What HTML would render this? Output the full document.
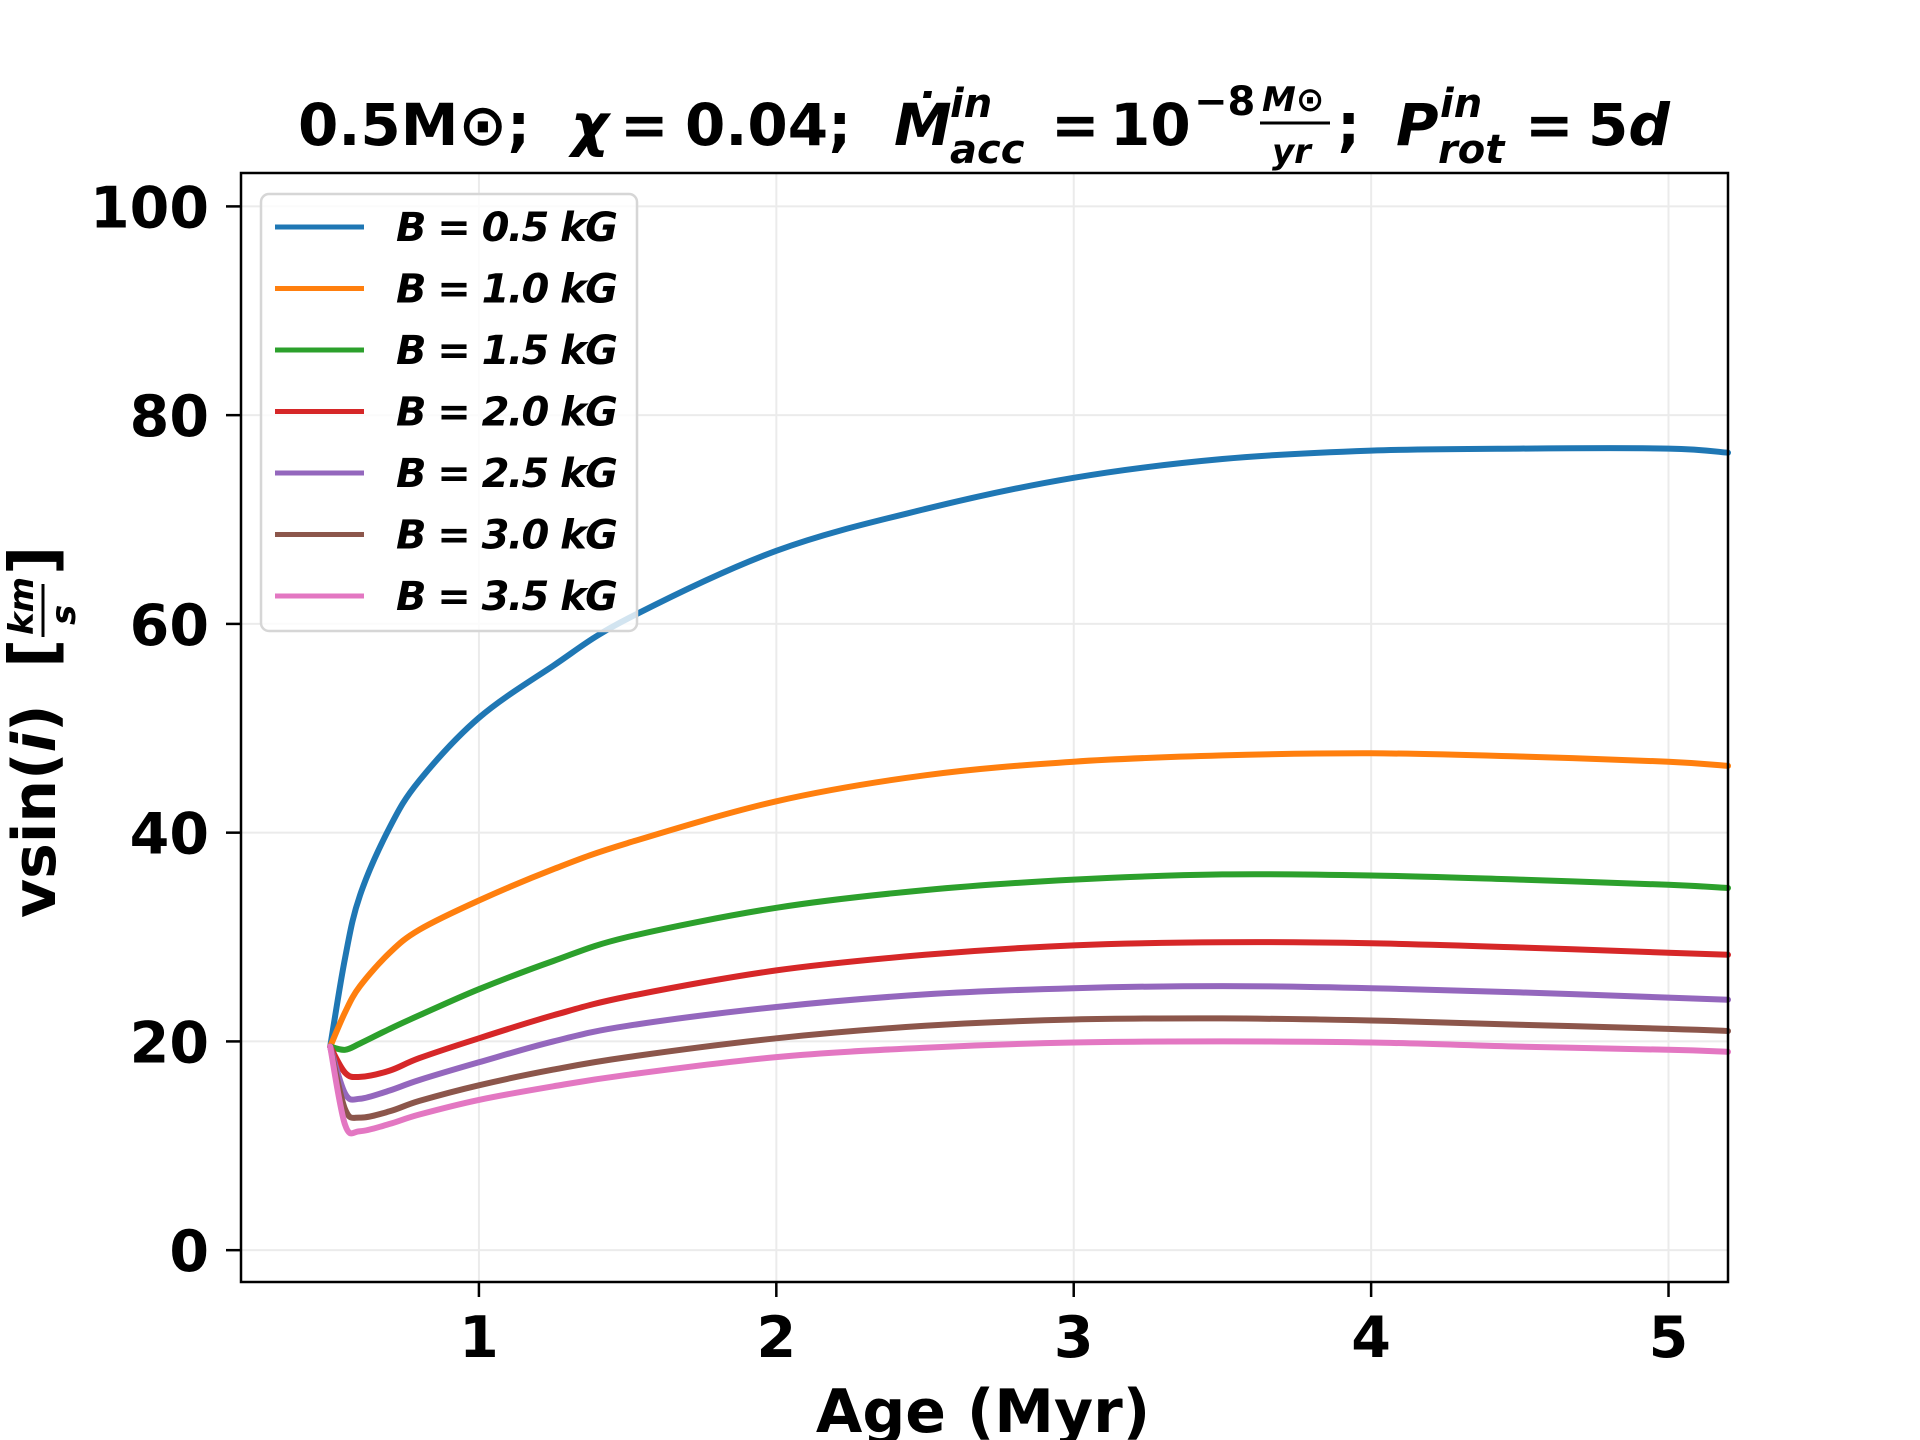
<!DOCTYPE html>
<html><head><meta charset="utf-8"><style>
html,body{margin:0;padding:0;background:#fff;}
svg{display:block;font-family:"DejaVu Sans","Liberation Sans",sans-serif;font-weight:bold;}
</style></head><body>
<svg id="chart" width="1920" height="1440" viewBox="0 0 1920 1440">
<g id="grid"></g>
<g id="series"></g>
<rect x="241" y="173" width="1487" height="1109" fill="none" stroke="#000" stroke-width="2.5"/>
<g id="ticks"></g>
<text y="145" font-size="58">
<tspan x="298">0.5M⊙;</tspan>
<tspan x="571" font-style="italic">χ</tspan><tspan x="620">=</tspan><tspan x="685">0.04;</tspan>
<tspan x="894" font-style="italic">Ṁ</tspan>
<tspan x="950" dy="-28" font-size="40" font-style="italic">in</tspan>
<tspan x="950" dy="46" font-size="40" font-style="italic">acc</tspan>
<tspan x="1051" dy="-18">=</tspan><tspan x="1110">10</tspan>
<tspan x="1194" dy="-30" font-size="40">−8</tspan>
<tspan x="1262" dy="-4" font-size="34" font-style="italic">M⊙</tspan>
<tspan x="1272" dy="52" font-size="34" font-style="italic">yr</tspan>
<tspan x="1337" dy="-18">;</tspan>
<tspan x="1396" font-style="italic">P</tspan>
<tspan x="1440" dy="-28" font-size="40" font-style="italic">in</tspan>
<tspan x="1438" dy="46" font-size="40" font-style="italic">rot</tspan>
<tspan x="1525" dy="-18">=</tspan><tspan x="1588">5</tspan><tspan font-style="italic">d</tspan>
</text>
<line x1="1260" y1="123" x2="1330" y2="123" stroke="#000" stroke-width="3"/>
<text x="983" y="1432" font-size="60" text-anchor="middle">Age (Myr)</text>
<g transform="translate(55,918) rotate(-90)">
<text x="0" y="0" font-size="60">vsin(<tspan font-style="italic">i</tspan>)</text>
<text x="250" y="0" font-size="64">[</text>
<text x="283" y="-22" font-size="34" font-style="italic">km</text>
<line x1="281" y1="-12" x2="334" y2="-12" stroke="#000" stroke-width="3"/>
<text x="293" y="20" font-size="34" font-style="italic">s</text>
<text x="343" y="0" font-size="64">]</text>
</g>
<g id="legend">
<rect x="261" y="194" width="376" height="437" rx="8" fill="#fff" fill-opacity="0.8" stroke="#d6d6d6" stroke-width="2.5"/>
</g>
</svg>
<script>
const xTicks=[1,2,3,4,5];
const yTicks=[0,20,40,60,80,100];
const labels=["B = 0.5 kG","B = 1.0 kG","B = 1.5 kG","B = 2.0 kG","B = 2.5 kG","B = 3.0 kG","B = 3.5 kG"];
const colors=["#1f77b4","#ff7f0e","#2ca02c","#d62728","#9467bd","#8c564b","#e377c2"];
const ages=[0.5,0.55,0.6,0.7,0.8,1.0,1.25,1.5,2.0,2.5,3.0,3.5,4.0,4.5,5.0,5.2];
const sB05=[19.5,28,34,40.5,45,51,56,60.5,67,71,74,75.8,76.6,76.8,76.8,76.4];
const sB10=[19.5,22.8,25.3,28.5,30.7,33.5,36.5,39,43,45.5,46.8,47.4,47.6,47.3,46.8,46.4];
const sB15=[19.5,19.2,19.8,21.2,22.5,25,27.7,30,32.8,34.5,35.5,36,35.9,35.5,35,34.7];
const sB20=[19.5,17,16.6,17.2,18.4,20.3,22.5,24.3,26.8,28.3,29.2,29.5,29.4,29,28.5,28.3];
const sB25=[19.5,15,14.5,15.3,16.3,18,20,21.5,23.3,24.5,25.1,25.3,25.1,24.7,24.2,24];
const sB30=[19.5,13.5,12.7,13.3,14.3,15.8,17.3,18.5,20.3,21.5,22.1,22.2,22,21.6,21.2,21];
const sB35=[19.5,12,11.4,12.1,13,14.4,15.7,16.8,18.5,19.4,19.9,20,19.9,19.5,19.2,19];
const allSeries=[sB05,sB10,sB15,sB20,sB25,sB30,sB35];
const NS="http://www.w3.org/2000/svg";
const L=241,R=1728,T=173,B=1282;
const X0=0.2,X1=5.2,Y0=-3.05,Y1=103.2;
function xs(v){return L+(v-X0)/(X1-X0)*(R-L);}
function ys(v){return B-(v-Y0)/(Y1-Y0)*(B-T);}
function mk(tag,attrs,parent){const e=document.createElementNS(NS,tag);for(const k in attrs)e.setAttribute(k,attrs[k]);parent.appendChild(e);return e;}
function smooth(pts){
  let d='M'+pts[0][0].toFixed(1)+','+pts[0][1].toFixed(1);
  for(let i=0;i<pts.length-1;i++){
    const p0=pts[Math.max(0,i-1)],p1=pts[i],p2=pts[i+1],p3=pts[Math.min(pts.length-1,i+2)];
    const c1=[p1[0]+(p2[0]-p0[0])/6,p1[1]+(p2[1]-p0[1])/6];
    const c2=[p2[0]-(p3[0]-p1[0])/6,p2[1]-(p3[1]-p1[1])/6];
    d+=' C'+c1.map(v=>v.toFixed(1)).join(',')+' '+c2.map(v=>v.toFixed(1)).join(',')+' '+p2[0].toFixed(1)+','+p2[1].toFixed(1);
  }
  return d;
}
const grid=document.getElementById('grid'),ticks=document.getElementById('ticks'),series=document.getElementById('series'),legend=document.getElementById('legend');
xTicks.forEach(t=>{
  const g=mk('line',{x1:xs(t),x2:xs(t),y1:T,y2:B,stroke:'#ebebeb','stroke-width':2},grid);
  
  
  const tk=mk('line',{x1:xs(t),x2:xs(t),y1:B,y2:B+15,stroke:'#000','stroke-width':2.5},ticks);
  
  
  const tl=mk('text',{x:xs(t),y:1357,'font-size':57,'text-anchor':'middle'},ticks);
  tl.textContent=t;
  
  
});
yTicks.forEach(t=>{
  const g=mk('line',{x1:L,x2:R,y1:ys(t),y2:ys(t),stroke:'#ebebeb','stroke-width':2},grid);
  
  
  const tk=mk('line',{x1:L-15,x2:L,y1:ys(t),y2:ys(t),stroke:'#000','stroke-width':2.5},ticks);
  
  
  const tl=mk('text',{x:209,y:ys(t)+21,'font-size':57,'text-anchor':'end'},ticks);
  tl.textContent=t;
  
  
});
allSeries.forEach((s,i)=>{
  const pts=s.map((v,j)=>[xs(ages[j]),ys(v)]);
  const p=mk('path',{d:smooth(pts),fill:'none',stroke:colors[i],'stroke-width':6,'stroke-linejoin':'round','stroke-linecap':'round'},series);
  
  
  const y=227+i*61.5;
  const ll=mk('line',{x1:275,x2:364,y1:y,y2:y,stroke:colors[i],'stroke-width':5},legend);
  
  
  const lt=mk('text',{x:396,y:y+14,'font-size':40,'font-style':'italic',textLength:222,lengthAdjust:'spacing'},legend);
  lt.textContent=labels[i];
  
  
});
</script>
</body></html>
